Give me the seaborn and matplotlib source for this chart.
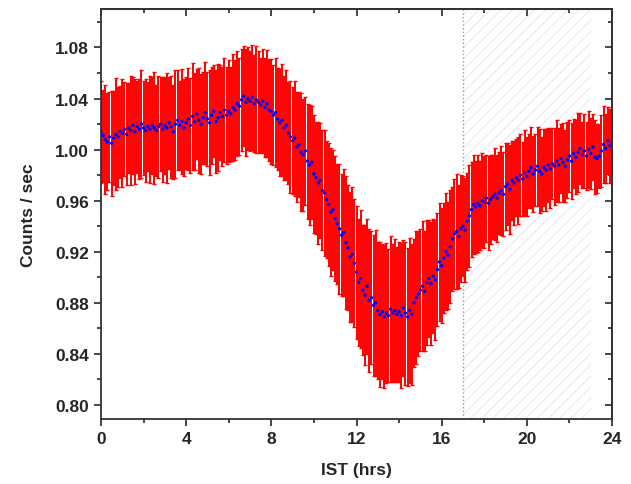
import matplotlib
matplotlib.use("Agg")
from matplotlib import pyplot as plt
from matplotlib.ticker import MultipleLocator
import numpy as np
import seaborn as sns

# time axis, one reading every 0.1 h
ist_hrs = np.round(np.arange(0, 24.01, 0.1), 1)

# one row per hour
counts = [
    1.014, 1.011, 1.008, 1.006, 1.010, 1.005, 1.009, 1.012, 1.010, 1.014,
    1.013, 1.016, 1.012, 1.017, 1.015, 1.019, 1.014, 1.018, 1.016, 1.020,
    1.017, 1.015, 1.018, 1.016, 1.019, 1.017, 1.015, 1.018, 1.020, 1.016,
    1.019, 1.017, 1.021, 1.018, 1.014, 1.020, 1.023, 1.019, 1.022, 1.017,
    1.021, 1.024, 1.019, 1.026, 1.022, 1.028, 1.023, 1.020, 1.025, 1.029,
    1.024, 1.021, 1.027, 1.030, 1.022, 1.025, 1.029, 1.026, 1.031, 1.027,
    1.030, 1.028, 1.033, 1.031, 1.036, 1.034, 1.039, 1.042, 1.037, 1.040,
    1.038, 1.041, 1.036, 1.039, 1.037, 1.035, 1.038, 1.033, 1.036, 1.031,
    1.030, 1.027, 1.029, 1.024, 1.021, 1.023, 1.017, 1.019, 1.013, 1.010,
    1.007, 1.009, 1.002, 1.004, 0.998, 0.996, 0.999, 0.991, 0.988, 0.990,
    0.981, 0.978, 0.974, 0.976, 0.968, 0.966, 0.961, 0.957, 0.951, 0.953,
    0.946, 0.942, 0.938, 0.933, 0.935, 0.927, 0.923, 0.916, 0.918, 0.911,
    0.904, 0.896, 0.899, 0.890, 0.886, 0.893, 0.882, 0.884, 0.878, 0.880,
    0.874, 0.871, 0.873, 0.869, 0.872, 0.870, 0.875, 0.872, 0.874, 0.871,
    0.873, 0.870, 0.876, 0.872, 0.869, 0.874, 0.871, 0.880, 0.884, 0.887,
    0.890, 0.893, 0.889, 0.896, 0.899, 0.895, 0.901, 0.898, 0.906, 0.912,
    0.909, 0.915, 0.920, 0.917, 0.924, 0.930, 0.934, 0.936, 0.932, 0.938,
    0.940, 0.937, 0.944, 0.948, 0.953, 0.957, 0.955, 0.958, 0.956, 0.960,
    0.959, 0.962, 0.958, 0.961, 0.963, 0.965, 0.962, 0.966, 0.968, 0.965,
    0.971, 0.973, 0.969, 0.976, 0.974, 0.978, 0.976, 0.980, 0.977, 0.982,
    0.979, 0.983, 0.986, 0.981, 0.984, 0.987, 0.983, 0.981, 0.986, 0.984,
    0.988, 0.985, 0.989, 0.987, 0.991, 0.988, 0.993, 0.990, 0.987, 0.992,
    0.995, 0.991, 0.997, 0.994, 0.998, 1.001, 0.996, 0.999, 0.995, 1.000,
    0.997, 1.002, 0.994, 0.993, 0.995, 0.999, 1.004, 1.001, 1.007, 1.003,
    1.005,
]

errors = [
    0.040, 0.036, 0.043, 0.038, 0.035, 0.041, 0.037, 0.044, 0.039, 0.036,
    0.042, 0.037, 0.040, 0.035, 0.043, 0.038, 0.041, 0.036, 0.039, 0.042,
    0.037, 0.040, 0.035, 0.042, 0.038, 0.044, 0.036, 0.040, 0.037, 0.041,
    0.038, 0.043, 0.036, 0.040, 0.037, 0.042, 0.039, 0.035, 0.041, 0.038,
    0.036, 0.040, 0.037, 0.042, 0.038, 0.035, 0.041, 0.039, 0.036, 0.040,
    0.037, 0.041, 0.038, 0.036, 0.040, 0.042, 0.037, 0.039, 0.041, 0.038,
    0.040, 0.037, 0.042, 0.039, 0.041, 0.038, 0.040, 0.039, 0.042, 0.040,
    0.039, 0.041, 0.038, 0.042, 0.040, 0.037, 0.041, 0.039, 0.042, 0.040,
    0.041, 0.039, 0.043, 0.040, 0.042, 0.044, 0.041, 0.043, 0.040, 0.044,
    0.042, 0.045, 0.043, 0.041, 0.046, 0.044, 0.042, 0.045, 0.047, 0.044,
    0.046, 0.044, 0.048, 0.045, 0.047, 0.049, 0.046, 0.048, 0.050, 0.047,
    0.049, 0.047, 0.051, 0.048, 0.050, 0.052, 0.049, 0.051, 0.053, 0.050,
    0.052, 0.050, 0.054, 0.051, 0.055, 0.053, 0.056, 0.052, 0.055, 0.057,
    0.054, 0.057, 0.053, 0.056, 0.055, 0.052, 0.057, 0.054, 0.056, 0.053,
    0.055, 0.057, 0.053, 0.056, 0.054, 0.057, 0.055, 0.050, 0.052, 0.049,
    0.048, 0.051, 0.047, 0.049, 0.046, 0.048, 0.045, 0.047, 0.044, 0.046,
    0.045, 0.043, 0.046, 0.042, 0.044, 0.041, 0.043, 0.045, 0.040, 0.042,
    0.039, 0.041, 0.038, 0.040, 0.037, 0.039, 0.036, 0.038, 0.035, 0.037,
    0.036, 0.034, 0.037, 0.035, 0.033, 0.036, 0.034, 0.032, 0.035, 0.033,
    0.034, 0.032, 0.035, 0.031, 0.033, 0.030, 0.034, 0.032, 0.029, 0.033,
    0.031, 0.029, 0.032, 0.030, 0.028, 0.031, 0.033, 0.029, 0.030, 0.032,
    0.029, 0.031, 0.028, 0.030, 0.032, 0.029, 0.027, 0.031, 0.028, 0.030,
    0.028, 0.030, 0.027, 0.029, 0.031, 0.028, 0.026, 0.029, 0.027, 0.030,
    0.028, 0.026, 0.029, 0.027, 0.025, 0.028, 0.030, 0.027, 0.026, 0.029,
    0.028,
]

night_start, night_end = 17, 23

sns.set_style("ticks")
plt.rcParams['font.family'] = ['Liberation Sans', 'DejaVu Sans']
plt.rcParams['font.weight'] = 'bold'
plt.rcParams['hatch.linewidth'] = 0.6

fig = plt.figure(figsize=(6.31, 4.85), dpi=100)
ax = fig.add_axes([0.160, 0.134, 0.810, 0.845])

ax.axvspan(night_start, night_end, facecolor='none', edgecolor='#e4e4e4',
           hatch='///', linewidth=0, zorder=0)
ax.axvline(night_start, color='#9a9a9a', linestyle=':', linewidth=1, zorder=1)

ax.errorbar(ist_hrs, counts, yerr=errors, fmt='none', ecolor='red',
            elinewidth=1.4, capsize=1.6, capthick=1, zorder=2)
sns.scatterplot(x=ist_hrs, y=counts, ax=ax, color='blue', s=6,
                edgecolor='none', zorder=3)

ax.set_xlim(0, 24)
ax.set_ylim(0.789, 1.110)
ax.xaxis.set_major_locator(MultipleLocator(4))
ax.xaxis.set_minor_locator(MultipleLocator(2))
ax.yaxis.set_major_locator(MultipleLocator(0.04))
ax.yaxis.set_minor_locator(MultipleLocator(0.02))
ax.yaxis.set_major_formatter(plt.FormatStrFormatter('%.2f'))
ax.tick_params(which='major', direction='out', length=5, width=1.2,
               labelsize=12.5)
ax.tick_params(which='minor', direction='out', length=3, width=1.2)

# mirrored ticks on top and right, pointing inward
top = ax.secondary_xaxis('top')
top.xaxis.set_major_locator(MultipleLocator(4))
top.xaxis.set_minor_locator(MultipleLocator(2))
top.tick_params(which='both', direction='in', labeltop=False, length=5, width=1.2)
top.tick_params(which='minor', length=3)
right = ax.secondary_yaxis('right')
right.yaxis.set_major_locator(MultipleLocator(0.04))
right.yaxis.set_minor_locator(MultipleLocator(0.02))
right.tick_params(which='both', direction='in', labelright=False, length=5, width=1.2)
right.tick_params(which='minor', length=3)

for side in ['left', 'bottom', 'top', 'right']:
    ax.spines[side].set_linewidth(1.3)
    ax.spines[side].set_color('#333333')
top.spines['top'].set_linewidth(1.3)
right.spines['right'].set_linewidth(1.3)

ax.set_xlabel('IST (hrs)', fontsize=12.5, fontweight='bold', labelpad=12)
ax.set_ylabel('Counts / sec', fontsize=12.5, fontweight='bold', labelpad=14)

plt.savefig('out.png', dpi=100)
plt.clf()
